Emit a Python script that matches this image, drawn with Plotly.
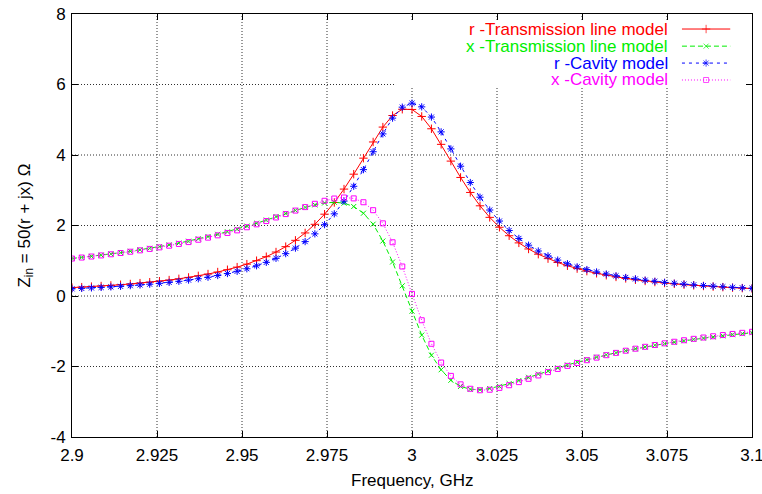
import numpy as np
import plotly.graph_objects as go

# Frequency sweep: 71 points from 2.9 to 3.1 GHz
freq_ghz = np.linspace(2.9, 3.1, 71)

# Normalised input resistance / reactance, Transmission line model
r_tl = [0.238, 0.251, 0.266, 0.283, 0.300, 0.320, 0.341, 0.365, 0.391, 0.420,
        0.452, 0.487, 0.527, 0.572, 0.623, 0.680, 0.745, 0.819, 0.904, 1.002,
        1.115, 1.247, 1.400, 1.579, 1.789, 2.034, 2.321, 2.652, 3.033, 3.456,
        3.910, 4.370, 4.792, 5.120, 5.298, 5.292, 5.094, 4.744, 4.302, 3.827,
        3.363, 2.938, 2.559, 2.231, 1.950, 1.710, 1.507, 1.334, 1.186, 1.060,
        0.951, 0.858, 0.777, 0.706, 0.644, 0.589, 0.541, 0.499, 0.461, 0.427,
        0.397, 0.369, 0.345, 0.322, 0.302, 0.284, 0.267, 0.252, 0.237, 0.224,
        0.212]
x_tl = [1.064, 1.094, 1.125, 1.158, 1.193, 1.230, 1.269, 1.310, 1.353, 1.399,
        1.448, 1.500, 1.555, 1.623, 1.686, 1.751, 1.821, 1.895, 1.983, 2.065,
        2.155, 2.254, 2.343, 2.430, 2.513, 2.585, 2.639, 2.660, 2.634, 2.538,
        2.348, 2.037, 1.560, 0.965, 0.290, -0.430, -1.110, -1.680, -2.093, -2.390,
        -2.565, -2.645, -2.658, -2.625, -2.563, -2.485, -2.397, -2.306, -2.214, -2.125,
        -2.039, -1.956, -1.878, -1.805, -1.735, -1.670, -1.608, -1.551, -1.497, -1.446,
        -1.397, -1.352, -1.310, -1.269, -1.231, -1.195, -1.161, -1.129, -1.098, -1.069,
        -1.042]

# Normalised input resistance / reactance, Cavity model
r_cav = [0.204, 0.216, 0.229, 0.243, 0.258, 0.274, 0.293, 0.313, 0.335, 0.359,
         0.387, 0.417, 0.451, 0.489, 0.532, 0.581, 0.637, 0.700, 0.773, 0.857,
         0.954, 1.068, 1.201, 1.358, 1.543, 1.763, 2.023, 2.331, 2.693, 3.113,
         3.585, 4.093, 4.599, 5.046, 5.357, 5.470, 5.366, 5.076, 4.656, 4.173,
         3.682, 3.219, 2.803, 2.439, 2.126, 1.859, 1.633, 1.441, 1.277, 1.138,
         1.019, 0.916, 0.827, 0.750, 0.683, 0.624, 0.572, 0.526, 0.485, 0.449,
         0.416, 0.387, 0.361, 0.337, 0.316, 0.296, 0.278, 0.262, 0.247, 0.233,
         0.221]
x_cav = [1.062, 1.091, 1.120, 1.151, 1.184, 1.219, 1.256, 1.295, 1.336, 1.380,
         1.427, 1.477, 1.530, 1.596, 1.656, 1.721, 1.789, 1.862, 1.950, 2.033,
         2.126, 2.228, 2.324, 2.423, 2.522, 2.616, 2.701, 2.765, 2.794, 2.769,
         2.660, 2.434, 2.061, 1.524, 0.837, 0.060, -0.688, -1.355, -1.887, -2.266,
         -2.506, -2.632, -2.674, -2.659, -2.606, -2.531, -2.443, -2.349, -2.254, -2.160,
         -2.069, -1.982, -1.900, -1.821, -1.748, -1.679, -1.614, -1.552, -1.495, -1.441,
         -1.390, -1.343, -1.298, -1.255, -1.215, -1.178, -1.142, -1.108, -1.076, -1.045,
         -1.016]

series_names = ["r -Transmission line model", "x -Transmission line model",
                "r -Cavity model", "x -Cavity model"]
series_values = [r_tl, x_tl, r_cav, x_cav]

x_tick_vals = [2.9, 2.925, 2.95, 2.975, 3.0, 3.025, 3.05, 3.075, 3.1]
x_tick_text = ["2.9", "2.925", "2.95", "2.975", "3", "3.025", "3.05", "3.075", "3.1"]
y_tick_vals = [-4, -2, 0, 2, 4, 6, 8]
y_tick_text = ["-4", "-2", "0", "2", "4", "6", "8"]

x_title = "Frequency, GHz"
y_title = "Z<sub>in</sub> = 50(r + jx) Ω"

FONT = "Liberation Sans, Arial, sans-serif"
styles = [
    dict(color="#ff0000", dash="solid", symbol="cross-thin-open", size=6),
    dict(color="#00ee00", dash="5px,3px", symbol="x-thin-open", size=5),
    dict(color="#0000ff", dash="3px,4px", symbol="asterisk-open", size=6),
    dict(color="#ff00ff", dash="1px,2px", symbol="square-open", size=5),
]

fig = go.Figure()
for name, vals, st in zip(series_names, series_values, styles):
    fig.add_trace(go.Scatter(
        x=freq_ghz, y=vals, mode="lines+markers", name=name,
        line=dict(color=st["color"], width=1, dash=st["dash"]),
        marker=dict(symbol=st["symbol"], size=st["size"], color=st["color"],
                    line=dict(color=st["color"], width=1)),
        showlegend=False, hoverinfo="skip",
    ))

# Dotted grid at the inner major ticks
grid_style = dict(color="#303030", width=1, dash="1px,2px")
for xv in x_tick_vals[1:-1]:
    fig.add_shape(type="line", xref="x", yref="y domain", x0=xv, x1=xv, y0=0, y1=1,
                  line=grid_style, layer="below")
for yv in y_tick_vals[1:-1]:
    fig.add_shape(type="line", xref="x domain", yref="y", x0=0, x1=1, y0=yv, y1=yv,
                  line=grid_style, layer="below")

# White key box hides the grid behind the key
fig.add_shape(type="rect", xref="x domain", yref="y domain",
              x0=0.4765, x1=0.991, y0=0.825, y1=0.983,
              fillcolor="white", line=dict(width=0), layer="below")

# Key in the gnuplot style: right-aligned label, sample line to its right
key_rows = [0.9645, 0.924, 0.884, 0.844]
key_text_x = 0.878
key_line_x = [0.897, 0.9325, 0.968]
for name, st, ky in zip(series_names, styles, key_rows):
    fig.add_trace(go.Scatter(
        x=key_line_x, y=[ky, ky, ky], xaxis="x2", yaxis="y2",
        mode="lines+markers", showlegend=False, hoverinfo="skip",
        line=dict(color=st["color"], width=1, dash=st["dash"]),
        marker=dict(symbol=st["symbol"], size=[0, st["size"], 0], color=st["color"],
                    line=dict(color=st["color"], width=1)),
    ))
    fig.add_annotation(x=key_text_x, y=ky, xref="x domain", yref="y domain",
                       text=name, showarrow=False, xanchor="right", yanchor="middle",
                       borderpad=0,
                       font=dict(family=FONT, size=17, color=st["color"]))

# Axis titles
fig.add_annotation(x=0.5, y=-0.1017, xref="paper", yref="paper", text=x_title,
                   showarrow=False, xanchor="center", yanchor="middle",
                   font=dict(family=FONT, size=17, color="black"))
fig.add_annotation(x=-0.069, y=0.5, xref="paper", yref="paper", text=y_title,
                   showarrow=False, xanchor="center", yanchor="middle", textangle=-90,
                   font=dict(family=FONT, size=17, color="black"))

axis_common = dict(
    showline=True, linecolor="black", linewidth=1, mirror="ticks",
    ticks="inside", ticklen=6, tickwidth=1, tickcolor="black",
    showgrid=False, zeroline=False, automargin=False,
    ticklabeloverflow="allow",
    tickfont=dict(family=FONT, size=17, color="black"),
)

fig.update_layout(
    width=762, height=494,
    margin=dict(l=72, r=10, t=14, b=57),
    paper_bgcolor="white", plot_bgcolor="white",
    font=dict(family=FONT, size=17, color="black"),
    xaxis=dict(range=[2.9, 3.1], tickvals=x_tick_vals, ticktext=x_tick_text,
               ticklabelstandoff=3, **axis_common),
    yaxis=dict(range=[-4, 8], tickvals=y_tick_vals, ticktext=y_tick_text,
               ticklabelstandoff=2, **axis_common),
    xaxis2=dict(overlaying="x", range=[0, 1], visible=False),
    yaxis2=dict(overlaying="y", range=[0, 1], visible=False),
    hovermode=False,
)

fig.write_html("out.html")
